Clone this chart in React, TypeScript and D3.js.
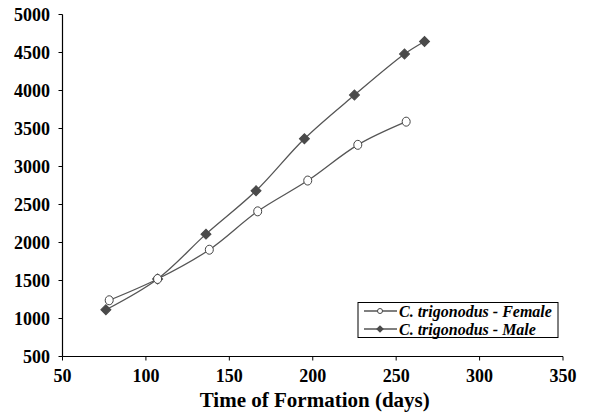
import React from "react";
import * as d3 from "d3";

const femaleDays = [78, 107, 138, 167, 197, 227, 256];
const femaleValues = [1240, 1520, 1905, 2410, 2815, 3285, 3590];
const maleDays = [76, 107, 136, 166, 195, 225, 255, 267];
const maleValues = [1115, 1520, 2110, 2680, 3365, 3940, 4480, 4645];
const xTicks = [50, 100, 150, 200, 250, 300, 350];
const yTicks = [500, 1000, 1500, 2000, 2500, 3000, 3500, 4000, 4500, 5000];
const seriesNames = ["C. trigonodus - Female", "C. trigonodus - Male"];

const W = 591;
const H = 416;
const FONT = "'Liberation Serif', 'Times New Roman', serif";

const App = () => {
  const margin = { top: 14.5, right: 28, bottom: 59.5, left: 62.5 };
  const x = d3.scaleLinear().domain([50, 350]).range([margin.left, W - margin.right]);
  const y = d3.scaleLinear().domain([500, 5000]).range([H - margin.bottom, margin.top]);

  const line = d3
    .line<[number, number]>()
    .x((d) => x(d[0]))
    .y((d) => y(d[1]))
    .curve(d3.curveCatmullRom.alpha(0.5));

  const female = femaleDays.map((d, i) => [d, femaleValues[i]] as [number, number]);
  const male = maleDays.map((d, i) => [d, maleValues[i]] as [number, number]);
  const diamond = d3.symbol().type(d3.symbolSquare).size(50)() || "";
  const smallDiamond = d3.symbol().type(d3.symbolSquare).size(30)() || "";

  return (
    <svg
      width={W}
      height={H}
      fontFamily={FONT}
      style={{ position: "absolute", left: 0, top: 0, background: "#fff" }}
    >
      {/* axes */}
      <line x1={x(50)} x2={x(350)} y1={y(500)} y2={y(500)} stroke="#000" strokeWidth={1.2} />
      <line x1={x(50)} x2={x(50)} y1={y(500)} y2={y(5000)} stroke="#000" strokeWidth={1.2} />
      {xTicks.map((t) => (
        <g key={"x" + t}>
          <line x1={x(t)} x2={x(t)} y1={y(500)} y2={y(500) + 4} stroke="#000" />
          <text x={x(t)} y={y(500) + 25.5} textAnchor="middle" fontWeight="bold" fontSize={18}>
            {t}
          </text>
        </g>
      ))}
      {yTicks.map((t) => (
        <g key={"y" + t}>
          <line x1={x(50) - 4} x2={x(50)} y1={y(t)} y2={y(t)} stroke="#000" />
          <text x={x(50) - 12.5} y={y(t)} dy="0.35em" textAnchor="end" fontWeight="bold" fontSize={18}>
            {t}
          </text>
        </g>
      ))}
      <text
        x={(x(50) + x(350)) / 2 + 2}
        y={407}
        textAnchor="middle"
        fontWeight="bold"
        fontSize={21}
      >
        Time of Formation (days)
      </text>

      {/* series */}
      <path d={line(male) || ""} fill="none" stroke="#555" strokeWidth={1.3} />
      <path d={line(female) || ""} fill="none" stroke="#555" strokeWidth={1.3} />
      {male.map((d, i) => (
        <path
          key={"m" + i}
          d={diamond}
          transform={`translate(${x(d[0])},${y(d[1])}) rotate(45)`}
          fill="#4a4a4a"
          stroke="#4a4a4a"
        />
      ))}
      {female.map((d, i) => (
        <ellipse
          key={"f" + i}
          cx={x(d[0])}
          cy={y(d[1])}
          rx={4}
          ry={4.5}
          fill="#fff"
          stroke="#444"
        />
      ))}

      {/* legend */}
      <g transform="translate(358,302.5)">
        <rect width={200} height={35} fill="#fff" stroke="#000" />
        {seriesNames.map((name, i) => {
          const cy = 8.5 + i * 18;
          return (
            <g key={name}>
              <line x1={6} x2={39} y1={cy} y2={cy} stroke="#555" strokeWidth={1.3} />
              {i === 0 ? (
                <circle cx={22} cy={cy} r={2.5} fill="#fff" stroke="#444" />
              ) : (
                <path d={smallDiamond} transform={`translate(22,${cy}) rotate(45)`} fill="#4a4a4a" />
              )}
              <text x={41} y={cy} dy="0.35em" fontWeight="bold" fontStyle="italic" fontSize={16}>
                {name}
              </text>
            </g>
          );
        })}
      </g>
    </svg>
  );
};

export default App;
